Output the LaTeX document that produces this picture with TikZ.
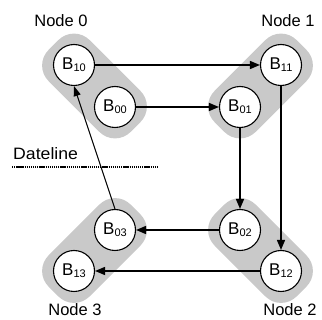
\documentclass[tikz,border=0pt]{standalone}
\usepackage{fontspec}
\setmainfont{Liberation Sans}
\usetikzlibrary{arrows.meta,backgrounds,calc}
% buffer name with a lowered two-digit subscript
\newcommand{\bsub}[1]{B\raisebox{-2pt}{\fontsize{11}{11}\selectfont #1}}
\begin{document}
\begin{tikzpicture}[x=1pt,y=-1pt,
  bufnode/.style={circle, draw, line width=1.1pt, fill=white, minimum size=41pt,
    inner sep=0pt, font=\fontsize{17}{17}\selectfont},
  groupbox/.style={rectangle, fill=black!21, rounded corners=22pt,
    minimum width=116pt, minimum height=58pt, inner sep=0pt},
  link/.style={line width=1.5pt, -{Triangle[length=10pt,width=8pt]}},
  thinlink/.style={line width=1pt, -{Triangle[length=10pt,width=7pt]}},
  grouplabel/.style={font=\fontsize{16.5}{16.5}\selectfont},
  dateline/.style={line width=1.8pt, dash pattern=on 1.3pt off 0.8pt}
]
\useasboundingbox (0,0) rectangle (322,320);

% buffers
\node[bufnode] (B10) at (74,65)   {\bsub{10}};
\node[bufnode] (B00) at (115,107) {\bsub{00}};
\node[bufnode] (B11) at (281,65)  {\bsub{11}};
\node[bufnode] (B01) at (240,107) {\bsub{01}};
\node[bufnode] (B02) at (240,230) {\bsub{02}};
\node[bufnode] (B12) at (281,271) {\bsub{12}};
\node[bufnode] (B03) at (115,230) {\bsub{03}};
\node[bufnode] (B13) at (74,271)  {\bsub{13}};

% grey node groups behind the buffers
\begin{scope}[on background layer]
  \node[groupbox, rotate=-45] (G0) at ($(B10)!0.5!(B00)$) {};
  \node[groupbox, rotate=45]  (G1) at ($(B11)!0.5!(B01)$) {};
  \node[groupbox, rotate=-45] (G2) at ($(B02)!0.5!(B12)$) {};
  \node[groupbox, rotate=45]  (G3) at ($(B03)!0.5!(B13)$) {};
\end{scope}

% group labels
\node[grouplabel] (L0) at (61,21)  {Node 0};
\node[grouplabel] (L1) at (288,21) {Node 1};
\node[grouplabel] (L2) at (290,310){Node 2};
\node[grouplabel] (L3) at (75,310) {Node 3};

% dateline
\node[grouplabel, anchor=base west, inner sep=0pt, xscale=1.07] (DL) at (13,160) {Dateline};
\coordinate (dl0) at (12,167);
\coordinate (dl1) at (157,167);
\draw[dateline] (dl0) -- (dl1);

% ring connections
\draw[link] (B10) -- (B11);
\draw[link] (B00) -- (B01);
\draw[link] (B11) -- (B12);
\draw[link] (B01) -- (B02);
\draw[link] (B02) -- (B03);
\draw[link] (B12) -- (B13);
\draw[thinlink] (B03.north) -- (B10.south);
\end{tikzpicture}
\end{document}
